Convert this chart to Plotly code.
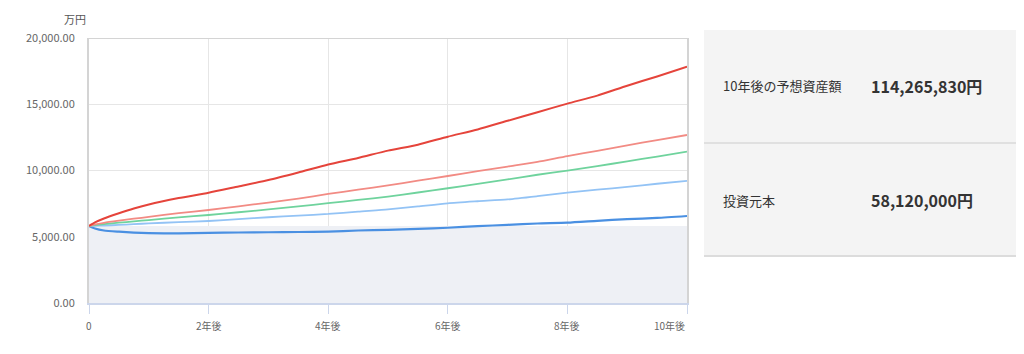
import plotly.graph_objects as go

years = [0, 0.1, 0.25, 0.5, 0.75, 1, 1.5, 2, 2.5, 3, 3.5, 4, 4.5, 5, 5.5, 6, 6.5, 7, 7.5, 8, 8.5, 9, 9.5, 10]

red = [5812, 6080, 6380, 6770, 7130, 7440, 7920, 8320, 8800, 9280, 9850, 10450, 10950, 11500,
       11950, 12550, 13100, 13750, 14400, 15050, 15650, 16400, 17100, 17840]
salmon = [5812, 5930, 6050, 6210, 6360, 6500, 6780, 7020, 7300, 7580, 7880, 8230, 8550, 8880,
          9230, 9585, 9950, 10300, 10650, 11090, 11480, 11900, 12300, 12680]
green = [5812, 5880, 5960, 6060, 6160, 6260, 6460, 6640, 6850, 7060, 7290, 7530, 7780, 8030,
         8340, 8660, 8990, 9330, 9680, 9985, 10330, 10690, 11050, 11420]
lightblue = [5812, 5830, 5850, 5890, 5950, 6010, 6100, 6190, 6330, 6470, 6600, 6720, 6900, 7060,
             7290, 7525, 7680, 7820, 8060, 8325, 8550, 8760, 9000, 9210]
blue = [5812, 5620, 5470, 5380, 5310, 5270, 5250, 5300, 5320, 5340, 5360, 5390, 5470, 5520,
        5600, 5680, 5800, 5900, 6000, 6060, 6200, 6330, 6420, 6566]

principal_years = [0, 10]
principal = [5812, 5812]

tick_vals = [0, 2, 4, 6, 8, 10]
tick_text = ["0", "2年後", "4年後", "6年後", "8年後", "10年後"]
y_ticks = [0, 5000, 10000, 15000, 20000]

labels = ["10年後の予想資産額", "投資元本"]
amounts = ["114,265,830円", "58,120,000円"]

FONT = "Noto Sans CJK JP, Noto Sans, sans-serif"

fig = go.Figure()
fig.add_trace(go.Scatter(x=principal_years, y=principal, mode="lines", line=dict(width=0),
                         fill="tozeroy", fillcolor="#eef0f5", hoverinfo="skip"))
series = [(blue, "#4a90e2", 2.2), (lightblue, "#93c3f5", 1.8), (green, "#6fd39d", 1.8),
          (salmon, "#f28b84", 1.8), (red, "#e5443b", 2.0)]
for vals, col, w in series:
    fig.add_trace(go.Scatter(x=years, y=vals, mode="lines", line=dict(color=col, width=w, shape="spline", smoothing=0.6)))

L, R, T, B = 89, 687, 38, 303
W = R - L
H = B - T


def px(x):
    return (x - L) / W


def py(y):
    return (B - y) / H


shapes = [
    dict(type="line", xref="x", yref="y", x0=0, x1=10, y0=20000, y1=20000,
         line=dict(color="#d4d4d4", width=2), layer="above"),
    dict(type="rect", xref="paper", yref="paper", x0=px(704), x1=px(1016), y0=py(256), y1=py(30),
         fillcolor="#f4f4f4", line=dict(width=0), layer="below"),
    dict(type="line", xref="paper", yref="paper", x0=px(704), x1=px(1016), y0=py(143), y1=py(143),
         line=dict(color="#e0e0e0", width=2)),
    dict(type="line", xref="paper", yref="paper", x0=px(704), x1=px(1016), y0=py(256), y1=py(256),
         line=dict(color="#dcdcdc", width=2)),
]

annotations = [
    dict(text="万円", xref="paper", yref="paper", x=px(88), y=py(19), xanchor="right", yanchor="middle",
         showarrow=False, font=dict(size=11, color="#555", family=FONT)),
]
# x tick labels (last one right-aligned to the plot edge)
for i, (tv, tt) in enumerate(zip(tick_vals, tick_text)):
    last = i == len(tick_vals) - 1
    annotations.append(dict(text=tt, xref="x", yref="paper", x=tv, y=py(325),
                            xanchor="right" if last else "center", yanchor="middle", showarrow=False,
                            font=dict(size=10, color="#666", family=FONT)))
row_y = [86, 200]
for lab, amt, ry in zip(labels, amounts, row_y):
    annotations.append(dict(text=lab, xref="paper", yref="paper", x=px(721), y=py(ry), xanchor="left",
                            yanchor="middle", showarrow=False, font=dict(size=13, color="#333", family=FONT)))
    annotations.append(dict(text="<b>" + amt + "</b>", xref="paper", yref="paper", x=px(869), y=py(ry),
                            xanchor="left", yanchor="middle", showarrow=False,
                            font=dict(size=16, color="#333", family=FONT)))

fig.update_layout(
    width=1024, height=354,
    margin=dict(l=L, r=1024 - R, t=T, b=354 - B),
    paper_bgcolor="white", plot_bgcolor="white",
    showlegend=False,
    shapes=shapes, annotations=annotations,
    font=dict(family=FONT),
    xaxis=dict(range=[0, 10], tickvals=tick_vals, showticklabels=False, showgrid=True, gridcolor="#e6e6e6",
               zeroline=False, showline=True, linecolor="#ccd6eb", linewidth=2, ticks="outside",
               tickcolor="#ccd6eb", ticklen=9, fixedrange=True),
    yaxis=dict(range=[0, 20000], tickvals=y_ticks, tickformat=",.2f", showgrid=True, gridcolor="#e6e6e6",
               zeroline=False, showline=True, mirror=True, linecolor="#d4d4d4", linewidth=2,
               ticks="", tickfont=dict(size=11, color="#666"), ticklabelstandoff=10, fixedrange=True),
)

fig.write_html("out.html")
